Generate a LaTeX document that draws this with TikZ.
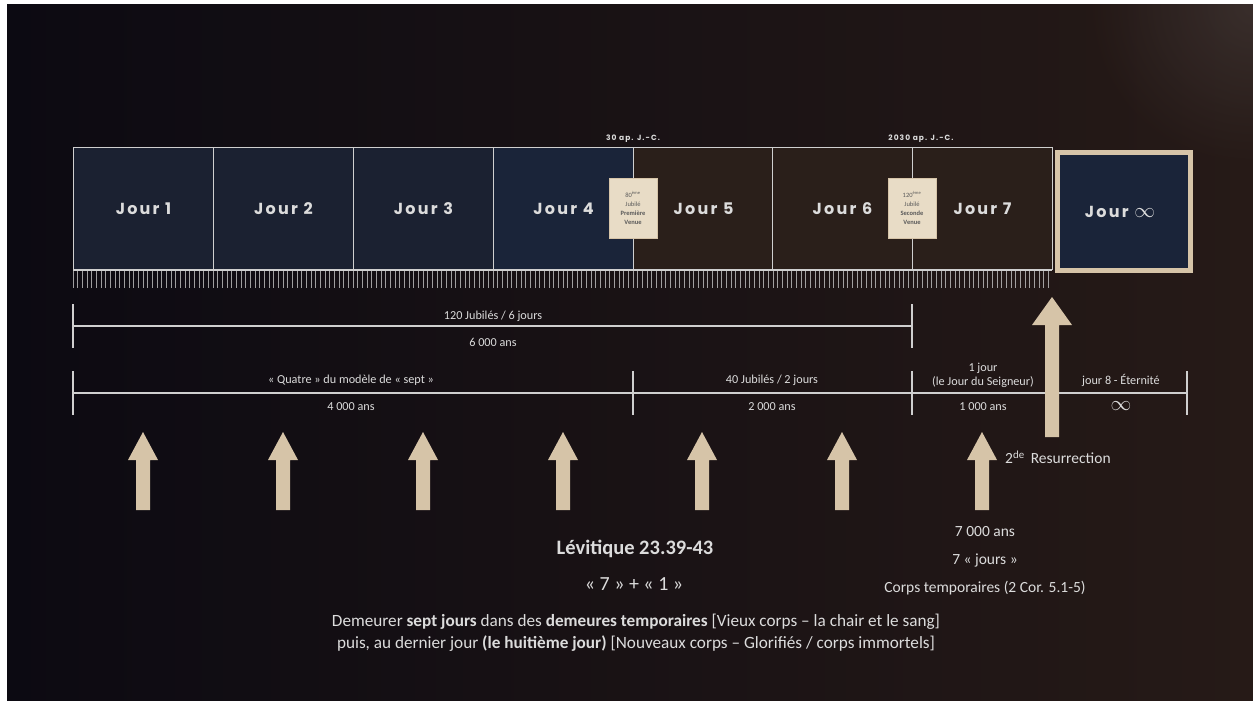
\documentclass[tikz,border=0pt]{standalone}
\usepackage{fontspec}
\setmainfont{Carlito}
\newfontfamily\dayfont[LetterSpace=14]{Poppins}
\newfontfamily\datefont[LetterSpace=14]{Poppins}
\usetikzlibrary{calc}
\definecolor{bgL}{HTML}{0C0A12}
\definecolor{bgR}{HTML}{261A17}
\definecolor{navy}{HTML}{1B2131}
\definecolor{navyb}{HTML}{1A2439}
\definecolor{brownd}{HTML}{2A1F1A}
\definecolor{beige}{HTML}{D6C4A8}
\definecolor{beigel}{HTML}{E8DCC6}
\definecolor{txt}{HTML}{DCDCDC}
\definecolor{linec}{HTML}{CFCFCF}
\tikzset{
  daybox/.style={draw=linec, line width=1pt, minimum width=140pt, minimum height=122pt, anchor=north west, inner sep=0pt},
  daylab/.style={text=txt, font=\dayfont\bfseries\fontsize{16}{18}\selectfont},
  lab/.style={text=txt, font=\fontsize{12.2}{14}\selectfont, inner sep=1pt},
  big/.style={text=txt, font=\fontsize{15.5}{18}\selectfont, inner sep=1pt},
  rule/.style={draw=linec, line width=2pt},
  endtick/.style={draw=linec, line width=2.2pt},
  datelab/.style={text=txt, font=\datefont\bfseries\fontsize{7.5}{8}\selectfont},
  venue/.style={fill=beigel, draw=beige, minimum width=48pt, minimum height=60pt, inner sep=1pt, align=center, text=black!65, font=\fontsize{6.5}{9}\selectfont\bfseries},
  pics/uparr/.style args={#1/#2/#3}{code={
    \fill[beige] (-#1,0) -- (-#1,-#3) -- (-#2,-#3) -- (0,-#3-28) -- (#2,-#3) -- (#1,-#3) -- (#1,0) -- cycle;
  }},
}
\begin{document}
\begin{tikzpicture}[x=1pt,y=-1pt]
\useasboundingbox (0,0) rectangle (1253,701);
\fill[white] (0,0) rectangle (1253,701);
\shade[left color=bgL, right color=bgR] (7,5) rectangle (1253,701);
\begin{scope}
\clip (7,5) rectangle (1253,701);
\shade[inner color=bgR!70!white!85!bgR, outer color=bgR, opacity=0.35] (1253,5) circle (160);
\end{scope}
% day boxes
\node[daybox, fill=navy] (d1) at (73,147) {};
\node[daybox, fill=navy] (d2) at (213,147) {};
\node[daybox, fill=navy] (d3) at (353,147) {};
\node[daybox, fill=navyb] (d4) at (493,147) {};
\node[daybox, fill=brownd] (d5) at (633,147) {};
\node[daybox, fill=brownd] (d6) at (772,147) {};
\node[daybox, fill=brownd] (d7) at (912,147) {};
\node[draw=beige, line width=5pt, fill=navyb, minimum width=133pt, minimum height=118pt, anchor=north west, inner sep=0pt] (dinf) at (1055,150) {};
\node[daylab] at (d1.center) {Jour 1};
\node[daylab] at (d2.center) {Jour 2};
\node[daylab] at (d3.center) {Jour 3};
\node[daylab] at (d4.center) {Jour 4};
\node[daylab] at (d5.center) {Jour 5};
\node[daylab] at (d6.center) {Jour 6};
\node[daylab] at (d7.center) {Jour 7};
\node[daylab, xshift=-4pt] at (dinf.center) {Jour {\fontsize{21}{21}\selectfont$\infty$}};
% venue boxes
\node[venue] (v1) at (633,208) {{\mdseries 80\textsuperscript{ème}}\\{\mdseries Jubilé}\\Première\\Venue};
\node[venue] (v2) at (912,208) {{\mdseries 120\textsuperscript{ème}}\\{\mdseries Jubilé}\\Seconde\\Venue};
\node[datelab] (t30) at (633,139) {30 ap. J.-C.};
\node[datelab] (t2030) at (921,139) {2030 ap. J.-C.};
% ticks
\foreach \i in {0,...,209}{
  \draw[linec, line width=0.8pt, opacity=0.75] (73+\i*4.6667,271) -- ++(0,17);
}
\draw[linec, line width=1pt] (73,270) -- (1052,270);
% bracket row 1
\coordinate (r1a) at (73,326);
\coordinate (r1b) at (912,326);
\draw[rule] (r1a) -- (r1b);
\draw[endtick] (73,304) -- (73,348);
\draw[endtick] (912,304) -- (912,348);
\node[lab] at (493,316) {120 Jubilés / 6 jours};
\node[lab] at (493,342) {6 000 ans};
% bracket row 2
\coordinate (r2a) at (73,393);
\coordinate (r2b) at (1187,393);
\draw[rule] (r2a) -- (r2b);
\foreach \x in {73,633,912,1187}{\draw[endtick] (\x,371) -- (\x,415);}
\node[lab] at (351,380) {« Quatre » du modèle de « sept »};
\node[lab] at (351,407) {4 000 ans};
\node[lab] at (772,380) {40 Jubilés / 2 jours};
\node[lab] at (772,407) {2 000 ans};
\node[lab, align=center] at (983,375) {1 jour\\(le Jour du Seigneur)};
\node[lab] at (983,407) {1 000 ans};
\node[lab] at (1121,380) {jour 8 - Éternité};
\node[text=txt, font=\fontsize{21}{21}\selectfont] at (1121,406) {$\infty$};
% big arrow
\pic at (1052,437) {uparr=7/20/112};
% small arrows
\foreach \x in {143,283,423,563,702,842,982}{
  \pic at (\x,510) {uparr=7/15/50};
}
\node[big, anchor=west] at (1004,457) {2\textsuperscript{de}\, Resurrection};
\node[big] at (985,532) {7 000 ans};
\node[big] at (985,560) {7 « jours »};
\node[big] at (985,588) {Corps temporaires (2 Cor. 5.1-5)};
\node[big, font=\bfseries\fontsize{20.5}{23}\selectfont] at (635,549) {Lévitique 23.39-43};
\node[big, font=\fontsize{20}{22}\selectfont] at (634,584) {« 7 » + « 1 »};
\node[big, font=\fontsize{17.2}{22}\selectfont, align=center] at (636,633) {Demeurer \textbf{sept jours} dans des \textbf{demeures temporaires} [Vieux corps – la chair et le sang]\\ puis, au dernier jour \textbf{(le huitième jour)} [Nouveaux corps – Glorifiés / corps immortels]};
\end{tikzpicture}
\end{document}
